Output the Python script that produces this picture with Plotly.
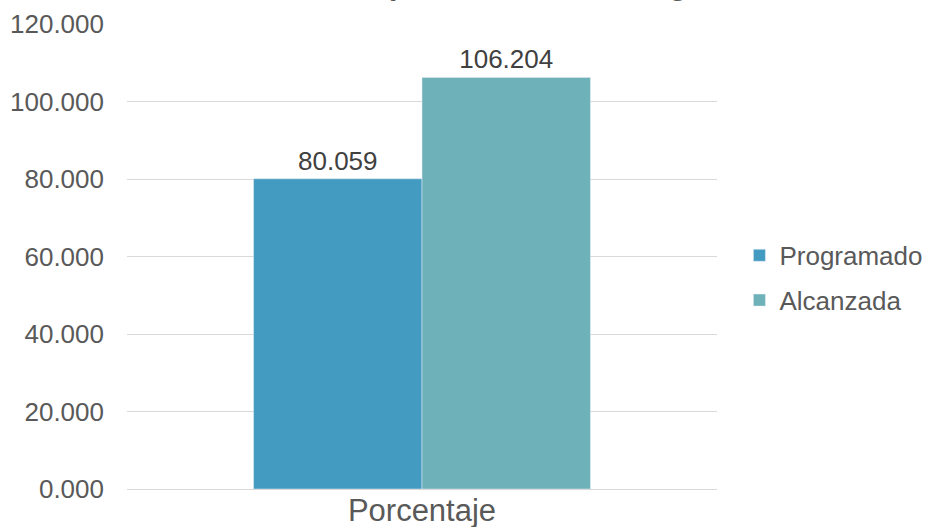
import plotly.graph_objects as go

categories = ["Porcentaje"]
series_names = ["Programado", "Alcanzada"]
programado = [80.059]
alcanzada = [106.204]
colors = ["#449BC1", "#6EB1B8"]
y_ticks = [0, 20, 40, 60, 80, 100, 120]
title_text = "Avance de cumplimiento de metas generales"

FONT = "Liberation Sans, Arial, sans-serif"

fig = go.Figure()
for name, vals, col in zip(series_names, [programado, alcanzada], colors):
    fig.add_trace(go.Bar(
        x=categories, y=vals, name=name, marker_color=col,
        texttemplate="%{y:.3f}", textposition="outside",
        textfont=dict(size=26, color="#404040", family=FONT),
        cliponaxis=False, legendgroup=name,
    ))

fig.update_layout(
    width=925, height=527,
    margin=dict(l=127, r=208, t=24, b=38, autoexpand=False),
    paper_bgcolor="white", plot_bgcolor="white",
    barmode="group", bargap=0.429, bargroupgap=0,
    font=dict(family=FONT, color="#595959"),
    showlegend=True,
    legend=dict(x=1.038, y=0.454, xanchor="left", yanchor="middle",
                font=dict(size=26, color="#595959", family=FONT),
                tracegroupgap=8, traceorder="grouped", itemwidth=30,
                bgcolor="rgba(0,0,0,0)"),
    xaxis=dict(showgrid=False, showline=False, ticks="", automargin=False,
               tickfont=dict(size=31, color="#595959")),
    yaxis=dict(range=[0, 120], tickvals=y_ticks, tickformat=".3f", automargin=False,
               showgrid=True, gridcolor="#D9D9D9", gridwidth=1.3,
               zeroline=True, zerolinecolor="#D9D9D9", zerolinewidth=1.3,
               showline=False, ticks="", ticklabelstandoff=22,
               tickfont=dict(size=26, color="#595959")),
    annotations=[dict(text="<b>" + title_text + "</b>", xref="paper", yref="paper",
                      x=0.0695, y=1.046, xanchor="left", yanchor="bottom",
                      showarrow=False,
                      font=dict(size=30, color="#595959", family=FONT))],
)

fig.write_html("out.html", config={"displayModeBar": False},
               post_script="document.body.style.margin='0';")
